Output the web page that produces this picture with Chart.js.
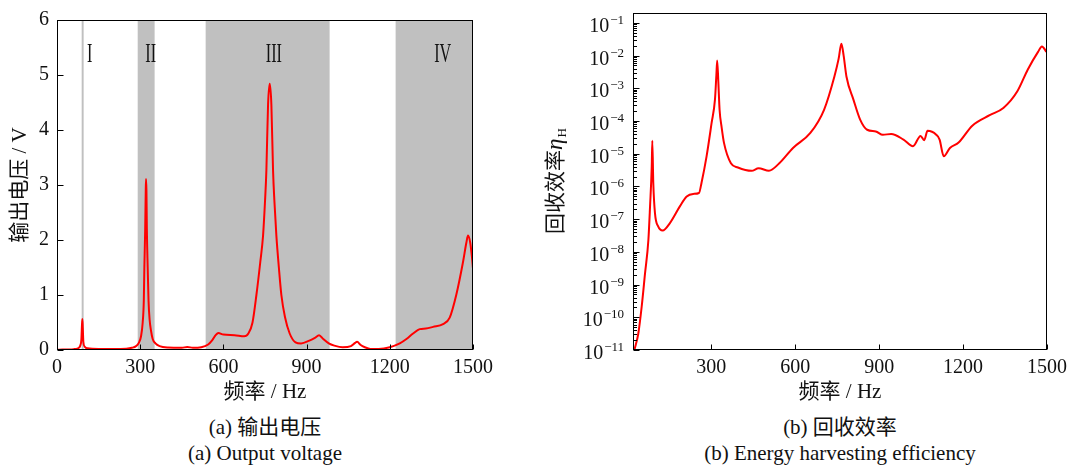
<!DOCTYPE html>
<html>
<head>
<meta charset="utf-8">
<script src="https://cdn.jsdelivr.net/npm/chart.js@4.4.1/dist/chart.umd.min.js"></script>
<style>
body { margin: 0; background: #fff; width: 1074px; height: 471px; position: relative; overflow: hidden;
  font-family: "Liberation Serif", "Noto Sans CJK SC", serif; color: #111; }
.box { position: absolute; top: 0; height: 410px; }
.cap { position: absolute; width: 500px; text-align: center; font-size: 21px; line-height: 26px; }
</style>
</head>
<body>
<div class="box" style="left:0;width:500px"><canvas id="voltChart"></canvas></div>
<div class="box" style="left:530px;width:544px"><canvas id="effChart"></canvas></div>
<div class="cap" style="left:15px;top:414px">(a) 输出电压<br>(a) Output voltage</div>
<div class="cap" style="left:590px;top:414px">(b) 回收效率<br>(b) Energy harvesting efficiency</div>
<script>
// (a) output voltage
var freqV = [0,20,40,60,75,84,88,90,91.5,93,95,100,110,150,200,250,270,285,295,303,
  309,313,315,318,320,321,322.5,324,327,330,334,339,345,355,370,400,450,470,490,520,
  545,560,572,582,600,640,675,690,705,719,733,743,750,755,761,767,773,779,784,791,
  800,809,822,839,860,880,910,930,945,960,980,1000,1030,1060,1075,1082,1095,1110,1130,1160,
  1200,1236,1260,1284,1308,1330,1356,1392,1416,1440,1464,1476,1482,1490,1496,1500];
var voltage = [0.005,0.008,0.01,0.015,0.03,0.08,0.2,0.45,0.565,0.4,0.15,0.06,0.03,0.02,0.02,0.025,0.04,0.07,0.13,0.25,
  0.5,0.9,1.5,2.2,2.9,3.11,2.9,2.2,1.5,0.9,0.55,0.35,0.2,0.12,0.07,0.045,0.04,0.055,0.04,0.05,
  0.1,0.18,0.27,0.31,0.28,0.27,0.25,0.3,0.5,1.0,1.6,2.08,2.7,3.27,4.46,4.84,4.46,3.27,2.7,2.08,
  1.5,1.0,0.6,0.3,0.14,0.12,0.17,0.22,0.27,0.2,0.12,0.08,0.05,0.07,0.13,0.15,0.09,0.05,0.02,0.02,
  0.05,0.12,0.2,0.3,0.38,0.39,0.42,0.47,0.59,1.01,1.6,1.95,2.08,1.95,1.7,1.48];

// (b) energy harvesting efficiency
var freqEta = [25,39,51,63,75,81,87,89,92.5,98.6,110,126,152,188,212,235,256,265,283,301,
  313,318,321,325,329.5,337,345.5,370,395,444,469,506,543,592,654,703,740,755,765,773,
  783,808,832,857,888,913,943,987,1021,1048,1061,1073,1104,1116,1131,1153,1184,1233,1295,1344,
  1394,1431,1468,1482,1498];
var efficiency = [1e-11,3.2e-11,2.1e-10,2.2e-9,2.3e-8,2.5e-7,4.1e-6,2.5e-5,1.3e-6,1.5e-7,
  6.0e-8,4.5e-8,7.6e-8,2.5e-7,4.9e-7,5.9e-7,6.3e-7,1.3e-6,8.3e-6,8.7e-5,
  4.5e-4,2.5e-3,7.1e-3,1.6e-3,2.2e-4,6.3e-5,2.1e-5,5.1e-6,3.8e-6,3.0e-6,
  3.6e-6,3.0e-6,5.1e-6,1.5e-5,4.3e-5,2.2e-4,2.3e-3,7.9e-3,2.3e-2,1.0e-2,
  2.3e-3,4.5e-4,1.1e-4,5.4e-5,4.8e-5,3.8e-5,4.0e-5,2.7e-5,1.7e-5,3.5e-5,
  2.6e-5,5.0e-5,3.8e-5,2.7e-5,8.3e-6,1.5e-5,2.2e-5,7.2e-5,1.5e-4,2.5e-4,
  8.1e-4,3.7e-3,1.3e-2,1.9e-2,1.3e-2];

// shaded frequency bands in (a)
var bandStart = [89, 291, 536, 1221];
var bandEnd = [96, 352, 983, 1500];
var bandNames = ['I', 'II', 'III', 'IV'];
var bandNameHz = [118, 338, 782, 1391];
var bandNameV = 5.37;

var voltTicksX = [0, 300, 600, 900, 1200, 1500];
var voltTicksY = [0, 1, 2, 3, 4, 5, 6];
var effTicksX = [300, 600, 900, 1200, 1500];
var effExponents = [-11, -10, -9, -8, -7, -6, -5, -4, -3, -2, -1];

Chart.defaults.font.family = '"Liberation Serif", "Noto Sans CJK SC", serif';
Chart.defaults.font.size = 20;
Chart.defaults.color = '#111';

function pairs(xs, ys) {
  return xs.map(function(v, i) { return {x: v, y: ys[i]}; });
}

function plain(v) { return String(v); }

// box round the plot and ticks pointing inward
function frameTicks(xVals, yVals, yMinor) {
  return {
    id: 'frameTicks',
    afterDatasetsDraw: function(chart) {
      var ctx = chart.ctx, a = chart.chartArea, x = chart.scales.x, y = chart.scales.y;
      var l = Math.round(a.left) + 0.5, r = Math.round(a.right) - 0.5;
      var t = Math.round(a.top) + 0.5, b = Math.round(a.bottom) - 0.5;
      ctx.save();
      ctx.strokeStyle = '#000';
      ctx.lineWidth = 1;
      ctx.strokeRect(l, t, r - l, b - t);
      ctx.beginPath();
      xVals.forEach(function(v) {
        var px = Math.round(x.getPixelForValue(v)) + 0.5;
        ctx.moveTo(px, b); ctx.lineTo(px, b - 5);
      });
      yVals.forEach(function(v) {
        var py = Math.round(y.getPixelForValue(v)) + 0.5;
        ctx.moveTo(l, py); ctx.lineTo(l + 6, py);
      });
      yMinor.forEach(function(v) {
        var py = Math.round(y.getPixelForValue(v)) + 0.5;
        ctx.moveTo(l, py); ctx.lineTo(l + 3.5, py);
      });
      ctx.stroke();
      ctx.restore();
    }
  };
}

var bandPlugin = {
  id: 'bands',
  beforeDatasetsDraw: function(chart) {
    var ctx = chart.ctx, a = chart.chartArea, x = chart.scales.x, y = chart.scales.y;
    ctx.save();
    ctx.fillStyle = '#c0c0c0';
    bandStart.forEach(function(s, i) {
      var x0 = x.getPixelForValue(s), x1 = x.getPixelForValue(bandEnd[i]);
      ctx.fillRect(x0, a.top, x1 - x0, a.bottom - a.top);
    });
    ctx.fillStyle = '#111';
    ctx.font = '27px "Liberation Serif"';
    ctx.textAlign = 'center';
    ctx.textBaseline = 'middle';
    bandNames.forEach(function(name, i) {
      ctx.save();
      ctx.translate(x.getPixelForValue(bandNameHz[i]), y.getPixelForValue(bandNameV));
      ctx.scale(0.6, 1);
      ctx.fillText(name, 0, 0);
      ctx.restore();
    });
    ctx.restore();
  }
};

// 10^n labels and the y title with subscript for (b)
var effLabels = {
  id: 'effLabels',
  afterDraw: function(chart) {
    var ctx = chart.ctx, a = chart.chartArea, y = chart.scales.y;
    ctx.save();
    ctx.fillStyle = '#111';
    ctx.textBaseline = 'alphabetic';
    ctx.textAlign = 'left';
    var right = a.left - 9;
    effExponents.forEach(function(e) {
      var py = y.getPixelForValue(Math.pow(10, e));
      var sup = '\u2212' + Math.abs(e);
      ctx.font = '13px "Liberation Serif"';
      var ws = ctx.measureText(sup).width;
      ctx.font = '20px "Liberation Serif"';
      var wb = ctx.measureText('10').width;
      ctx.fillText('10', right - ws - 1 - wb, py + 9);
      ctx.font = '13px "Liberation Serif"';
      ctx.fillText(sup, right - ws, py + 1);
    });

    var main = '回收效率';
    ctx.translate(24, (a.top + a.bottom) / 2);
    ctx.rotate(-Math.PI / 2);
    ctx.font = '21px "Noto Sans CJK SC"';
    var w1 = ctx.measureText(main).width;
    ctx.font = 'italic 23px "Liberation Serif"';
    var w2 = ctx.measureText('\u03b7').width;
    ctx.font = '13px "Liberation Serif"';
    var w3 = ctx.measureText('H').width;
    var px = -(w1 + w2 + w3) / 2;
    ctx.font = '21px "Noto Sans CJK SC"';
    ctx.fillText(main, px, 8);
    ctx.font = 'italic 23px "Liberation Serif"';
    ctx.fillText('\u03b7', px + w1, 8);
    ctx.font = '13px "Liberation Serif"';
    ctx.fillText('H', px + w1 + w2 + 1, 12);
    ctx.restore();
  }
};

function lineSet(data) {
  return {
    data: data,
    borderColor: '#ff0000',
    borderWidth: 2,
    pointRadius: 0,
    cubicInterpolationMode: 'monotone',
    fill: false
  };
}

var xTitle = {
  display: true,
  text: '频率 / Hz',
  font: {size: 21, lineHeight: 1.2},
  padding: {top: 0, bottom: 5.4}
};

new Chart(document.getElementById('voltChart'), {
  type: 'line',
  data: {datasets: [lineSet(pairs(freqV, voltage))]},
  options: {
    responsive: true,
    maintainAspectRatio: false,
    animation: false,
    layout: {padding: {top: 13, right: 27, left: 0, bottom: 0}},
    plugins: {legend: {display: false}, tooltip: {enabled: false}},
    scales: {
      x: {
        type: 'linear', min: 0, max: 1500,
        ticks: {stepSize: 300, padding: 6, maxRotation: 0, callback: plain},
        grid: {display: false, drawTicks: false},
        border: {display: false},
        title: xTitle,
        afterFit: function(s) { s.height = 60; }
      },
      y: {
        min: 0, max: 6,
        ticks: {stepSize: 1, padding: 8, callback: plain},
        grid: {display: false, drawTicks: false},
        border: {display: false},
        title: {display: true, text: '输出电压 / V', font: {size: 21, lineHeight: 1.2}, padding: {top: 7.4, bottom: 0}},
        afterFit: function(s) { s.width = 57; }
      }
    }
  },
  plugins: [bandPlugin, frameTicks(voltTicksX, voltTicksY, [])]
});

var effMajor = effExponents.map(function(e) { return Math.pow(10, e); });
var effMinor = [];
effExponents.concat([0]).forEach(function(e) {
  for (var k = 2; k <= 9; k++) {
    var v = k * Math.pow(10, e - 1);
    if (v > 1e-11 && v < 0.2) effMinor.push(v);
  }
});

new Chart(document.getElementById('effChart'), {
  type: 'line',
  data: {datasets: [lineSet(pairs(freqEta, efficiency))]},
  options: {
    responsive: true,
    maintainAspectRatio: false,
    animation: false,
    layout: {padding: {top: 13, right: 27, left: 0, bottom: 0}},
    plugins: {legend: {display: false}, tooltip: {enabled: false}},
    scales: {
      x: {
        type: 'linear', min: 20, max: 1500,
        ticks: {padding: 6, maxRotation: 0, callback: plain},
        afterBuildTicks: function(s) { s.ticks = effTicksX.map(function(v) { return {value: v}; }); },
        grid: {display: false, drawTicks: false},
        border: {display: false},
        title: xTitle,
        afterFit: function(s) { s.height = 60; }
      },
      y: {
        type: 'logarithmic', min: 1e-11, max: 0.2,
        ticks: {display: false},
        grid: {display: false, drawTicks: false},
        border: {display: false},
        afterFit: function(s) { s.width = 103; }
      }
    }
  },
  plugins: [frameTicks(effTicksX, effMajor, effMinor), effLabels]
});
</script>
</body>
</html>
